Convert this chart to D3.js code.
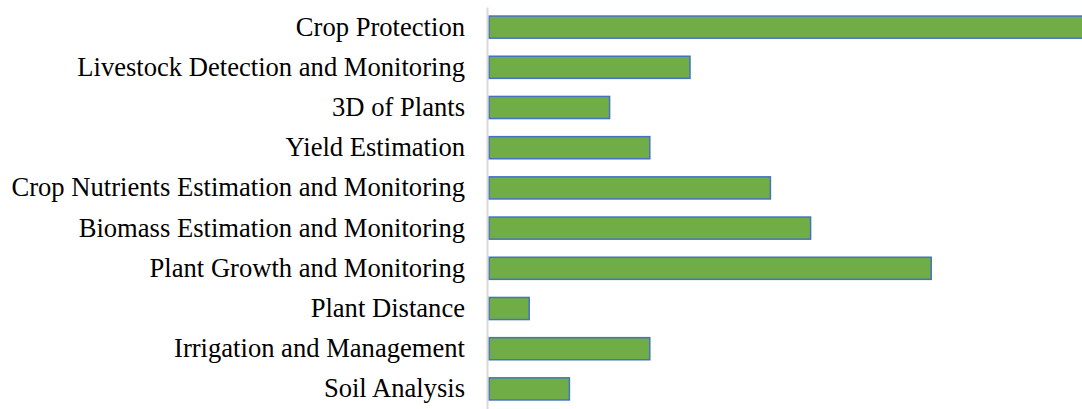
<!DOCTYPE html>
<html>
<head>
<meta charset="utf-8">
<script src="https://cdn.jsdelivr.net/npm/d3@7"></script>
<style>
  html, body { margin: 0; padding: 0; background: #fff; }
  svg { display: block; }
</style>
</head>
<body>
<svg id="chart" width="1082" height="409"></svg>
<script>
// Number of studies per application area (top to bottom)
const categories = [
  "Crop Protection",
  "Livestock Detection and Monitoring",
  "3D of Plants",
  "Yield Estimation",
  "Crop Nutrients Estimation and Monitoring",
  "Biomass Estimation and Monitoring",
  "Plant Growth and Monitoring",
  "Plant Distance",
  "Irrigation and Management",
  "Soil Analysis"
];
const counts = [15, 5, 3, 4, 7, 8, 11, 1, 4, 2];

const svg = d3.select("#chart");
const x0 = 489;
const unit = 40.2;

const x = d3.scaleLinear().domain([0, 15]).range([x0, x0 + 15 * unit]);
const y = d3.scaleBand().domain(categories).range([7, 409]).paddingInner(0.45).paddingOuter(0.225);

// bars
svg.append("g").selectAll("rect")
  .data(categories)
  .join("rect")
  .attr("x", x(0))
  .attr("y", d => y(d))
  .attr("width", (d, i) => x(counts[i]) - x(0))
  .attr("height", y.bandwidth())
  .attr("fill", "#70ad47")
  .attr("stroke", "#4472c4")
  .attr("stroke-width", 1.5);

// category axis
const axis = d3.axisLeft(y).tickSize(0).tickPadding(0);
const g = svg.append("g").attr("transform", `translate(${x0 - 2},0)`).call(axis);
g.select(".domain").attr("stroke", "#d9d9d9").attr("stroke-width", 2);
g.selectAll(".tick text")
  .attr("x", -22)
  .attr("dy", "0.32em")
  .attr("font-family", "'Liberation Serif', 'Times New Roman', serif")
  .attr("font-size", 26.6)
  .attr("fill", "#000");
</script>
</body>
</html>
